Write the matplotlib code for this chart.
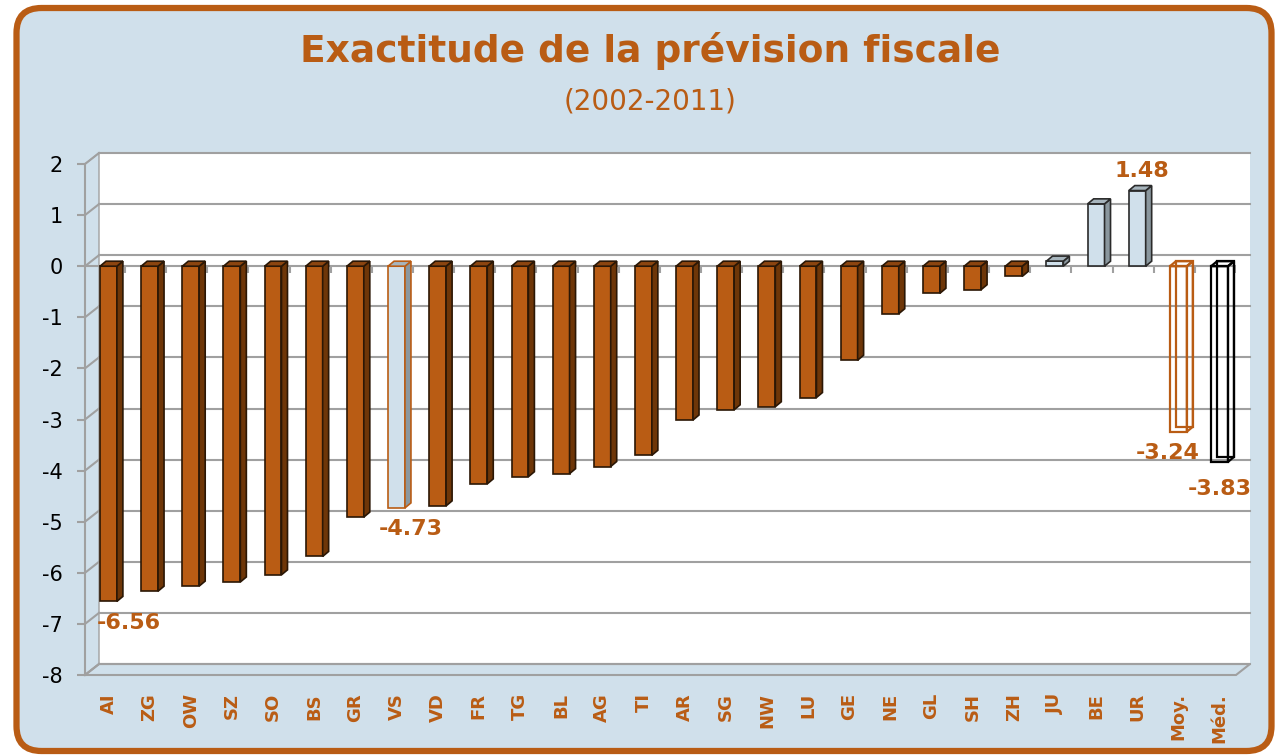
import numpy as np
import matplotlib.pyplot as plt
from matplotlib.patches import Polygon, Rectangle, FancyBboxPatch

plt.rcParams['axes.unicode_minus'] = False

# données
cantons = ['AI', 'ZG', 'OW', 'SZ', 'SO', 'BS', 'GR', 'VS', 'VD', 'FR', 'TG', 'BL', 'AG', 'TI',
           'AR', 'SG', 'NW', 'LU', 'GE', 'NE', 'GL', 'SH', 'ZH', 'JU', 'BE', 'UR', 'Moy.', 'Méd.']
ecarts = [-6.56, -6.36, -6.26, -6.18, -6.04, -5.68, -4.91, -4.73, -4.69, -4.26, -4.12, -4.06,
          -3.92, -3.70, -3.01, -2.81, -2.75, -2.57, -1.84, -0.93, -0.53, -0.46, -0.20,
          0.10, 1.22, 1.48, -3.24, -3.83]
# étiquettes affichées : canton -> décalage (points)
etiquettes = {'AI': (15, -8), 'VS': (10, -8), 'UR': (3, 7), 'Moy.': (-8, -8), 'Méd.': (0, -12)}

ORANGE = '#b95c14'
BLEU = '#d0e0eb'

fig = plt.figure(figsize=(12.8, 7.56), dpi=100)
fig.patch.set_facecolor('white')

# cadre arrondi
cadre = FancyBboxPatch((0.165, 0.05), 12.55, 7.43, boxstyle='round,pad=0,rounding_size=0.25',
                       transform=fig.dpi_scale_trans, facecolor=BLEU, edgecolor=ORANGE,
                       linewidth=4.5, zorder=-10)
fig.patches.append(cadre)

fig.text(0.508, 0.932, 'Exactitude de la prévision fiscale', ha='center', va='center',
         fontsize=27, fontweight='bold', color=ORANGE)
fig.text(0.508, 0.866, '(2002-2011)', ha='center', va='center', fontsize=20, color=ORANGE)

ax = fig.add_axes([85 / 1280, 1 - 675 / 756, (1236 - 85) / 1280, (675 - 164) / 756])
ax.set_xlim(-0.57, 27.4)
ax.set_ylim(-8, 2)
ax.set_facecolor('none')
for s in ['top', 'right', 'bottom']:
    ax.spines[s].set_visible(False)
ax.spines['left'].set_color('#a0a0a0')
ax.spines['left'].set_linewidth(1.5)


def decal(dx, dy):
    # décalage en pixels -> unités de données
    inv = ax.transData.inverted()
    p0 = inv.transform((0, 0))
    p1 = inv.transform((dx, dy))
    return p1[0] - p0[0], p1[1] - p0[1]


x0, x1 = ax.get_xlim()
wdx, wdy = decal(14, 11)    # profondeur des parois
bdx, bdy = decal(6, 5)      # profondeur des barres
gris = '#a0a0a0'

# paroi du fond, paroi gauche et sol
ax.add_patch(Rectangle((x0 + wdx, -8 + wdy), x1 - x0, 10, facecolor='white', edgecolor='none',
                       clip_on=False, zorder=0))
ax.add_patch(Polygon([(x0, -8), (x0, 2), (x0 + wdx, 2 + wdy), (x0 + wdx, -8 + wdy)],
                     facecolor=BLEU, edgecolor=gris, lw=1, clip_on=False, zorder=0))
ax.add_patch(Polygon([(x0, -8), (x1, -8), (x1 + wdx, -8 + wdy), (x0 + wdx, -8 + wdy)],
                     facecolor=BLEU, edgecolor=gris, lw=1.5, clip_on=False, zorder=0))
for y in range(-8, 3):
    ax.plot([x0 + wdx, x1 + wdx], [y + wdy, y + wdy], color=gris, lw=1.5, clip_on=False, zorder=1)
    ax.plot([x0, x0 + wdx], [y, y + wdy], color=gris, lw=1.5, clip_on=False, zorder=1)

# axe des catégories à zéro
ax.plot([x0, x1], [0, 0], color=gris, lw=1.5, zorder=1)
idx = np.arange(len(cantons))
ax.vlines(idx + 0.4, -0.14, 0, color=gris, lw=1.5, zorder=1)

larg = 0.41
for i, (c, v) in enumerate(zip(cantons, ecarts)):
    xl, xr = i - larg / 2, i + larg / 2
    haut = max(v, 0)
    if c in ('Moy.', 'Méd.'):
        col = ORANGE if c == 'Moy.' else 'black'
        kw = dict(facecolor='none', edgecolor=col, lw=1.6, zorder=3)
        ax.add_patch(Polygon([(xl + bdx, bdy), (xr + bdx, bdy), (xr + bdx, v + bdy), (xl + bdx, v + bdy)], **kw))
        ax.add_patch(Polygon([(xl, 0), (xr, 0), (xr, v), (xl, v)], **kw))
        ax.add_patch(Polygon([(xr, 0), (xr, v), (xr + bdx, v + bdy), (xr + bdx, bdy)], **kw))
        ax.add_patch(Polygon([(xl, 0), (xr, 0), (xr + bdx, bdy), (xl + bdx, bdy)], **kw))
        continue
    if v > 0:
        face, cote, dessus, bord = BLEU, '#8a979e', '#a7b5bd', '#2a2a2a'
    elif c == 'VS':
        face, cote, dessus, bord = BLEU, '#8a979e', '#a7b5bd', ORANGE
    else:
        face, cote, dessus, bord = ORANGE, '#6e3608', '#8c4510', '#2b1705'
    ax.bar(i, v, width=larg, color=face, edgecolor=bord, lw=1.2, zorder=3)
    ax.add_patch(Polygon([(xr, 0), (xr, v), (xr + bdx, v + bdy), (xr + bdx, bdy)],
                         facecolor=cote, edgecolor=bord, lw=1.2, zorder=3))
    ax.add_patch(Polygon([(xl, haut), (xr, haut), (xr + bdx, haut + bdy), (xl + bdx, haut + bdy)],
                         facecolor=dessus, edgecolor=bord, lw=1.2, zorder=3))

# étiquettes de valeurs
for c, (ox, oy) in etiquettes.items():
    i = cantons.index(c)
    v = ecarts[i]
    ax.annotate('%.2f' % v, (i, v), xytext=(ox, oy), textcoords='offset points',
                ha='center', va='bottom' if v > 0 else 'top', fontsize=16,
                fontweight='bold', color=ORANGE, zorder=5, annotation_clip=False)

ax.set_yticks(range(-8, 3))
ax.tick_params(axis='y', labelsize=15, length=6, width=1.5, color=gris, pad=10)
ax.set_xticks(idx)
ax.set_xticklabels(cantons, rotation=90, fontsize=13, fontweight='bold', color=ORANGE, va='top')
ax.tick_params(axis='x', length=0, pad=13)

plt.savefig('out.png', dpi=100)
